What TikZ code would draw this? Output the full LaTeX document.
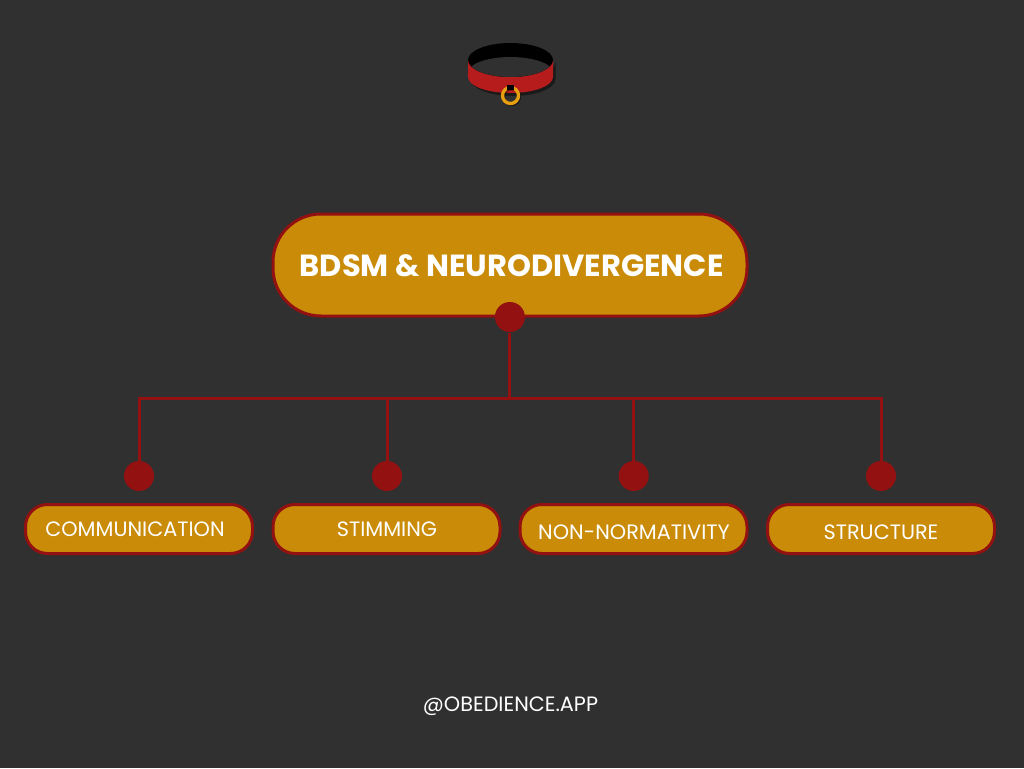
\documentclass[tikz,border=0pt]{standalone}
\usepackage{fontspec}
\setmainfont{Poppins}
\definecolor{bgdark}{HTML}{303030}
\definecolor{gold}{HTML}{C98B08}
\definecolor{darkred}{HTML}{931111}
\definecolor{collarred}{HTML}{B71C1C}
\definecolor{ringgold}{HTML}{E8A010}
\tikzset{
  every picture/.style={line width=0.75pt},
  mainbox/.style={draw=darkred,fill=gold,line width=2.25pt,rectangle,rounded corners=36pt,minimum width=355.5pt,minimum height=76.5pt},
  subbox/.style={draw=darkred,fill=gold,line width=2.25pt,rectangle,rounded corners=16.5pt,minimum width=170.25pt,minimum height=36.75pt},
  dotnode/.style={circle,fill=darkred,minimum size=22.5pt,inner sep=0pt},
  linkline/.style={draw=darkred,line width=2.25pt},
  subtext/.style={text=white,font=\fontsize{15.6}{18}\selectfont,inner sep=0pt},
}
\begin{document}
\begin{tikzpicture}[x=0.75pt,y=0.75pt,yscale=-1,xscale=1]
\useasboundingbox (0,0) rectangle (1024,768);
\fill[bgdark] (0,0) rectangle (1024,768);

% Collar
\fill[black,opacity=0.45] (470.5,62) -- (470.5,79) arc[start angle=180,end angle=0,x radius=42.5,y radius=17] -- (555.5,62) arc[start angle=0,end angle=180,x radius=42.5,y radius=17] -- cycle;
\fill[collarred] (468,60) -- (468,77) arc[start angle=180,end angle=0,x radius=42.5,y radius=16] -- (553,60) -- cycle;
\fill[black] (510.5,60) ellipse[x radius=42.5,y radius=17];
\begin{scope}
\clip (510.5,60) ellipse[x radius=42.5,y radius=17];
\fill[bgdark] (510.5,72) ellipse[x radius=42,y radius=15];
\end{scope}
\draw[black,opacity=0.45,line width=2.5pt] (511.5,96.5) circle[radius=8];
\draw[ringgold,line width=2.5pt] (510.5,95.5) circle[radius=8];
\fill[black] (506.5,85) rectangle (514,90);

% Boxes
\node[mainbox] (mainb) at (510,265) {};
\node[subbox] (comm) at (139,529) {};
\node[subbox] (stim) at (386.5,529) {};
\node[subbox] (nonnorm) at (633.5,529) {};
\node[subbox] (struct) at (881,529) {};

% Connectors
\coordinate (busa) at (139,398);
\coordinate (busb) at (387,398);
\coordinate (busc) at (633.7,398);
\coordinate (busd) at (881,398);
\node[dotnode] (topdot) at (509.9,317) {};
\node[dotnode] (dota) at (139,476) {};
\node[dotnode] (dotb) at (387,476) {};
\node[dotnode] (dotc) at (633.7,476) {};
\node[dotnode] (dotd) at (881,476) {};
\draw[linkline] (dota) -- (busa) -- (busd) -- (dotd);
\draw[linkline] (dotb) -- (busb);
\draw[linkline] (dotc) -- (busc);
\draw[linkline] (topdot) -- (topdot |- busa);

% Text
\node[text=white,font=\fontsize{22.9}{27}\selectfont\bfseries,inner sep=0pt] (maintext) at (511.7,265.5) {BDSM \& NEURODIVERGENCE};
\node[subtext] (commtext) at (135,529) {COMMUNICATION};
\node[subtext] (stimtext) at (387,529) {STIMMING};
\node[subtext] (nonnormtext) at (634,532) {NON-NORMATIVITY};
\node[subtext] (structtext) at (881,532) {STRUCTURE};
\node[subtext] (handle) at (510.5,706) {@OBEDIENCE.APP};
\end{tikzpicture}
\end{document}
